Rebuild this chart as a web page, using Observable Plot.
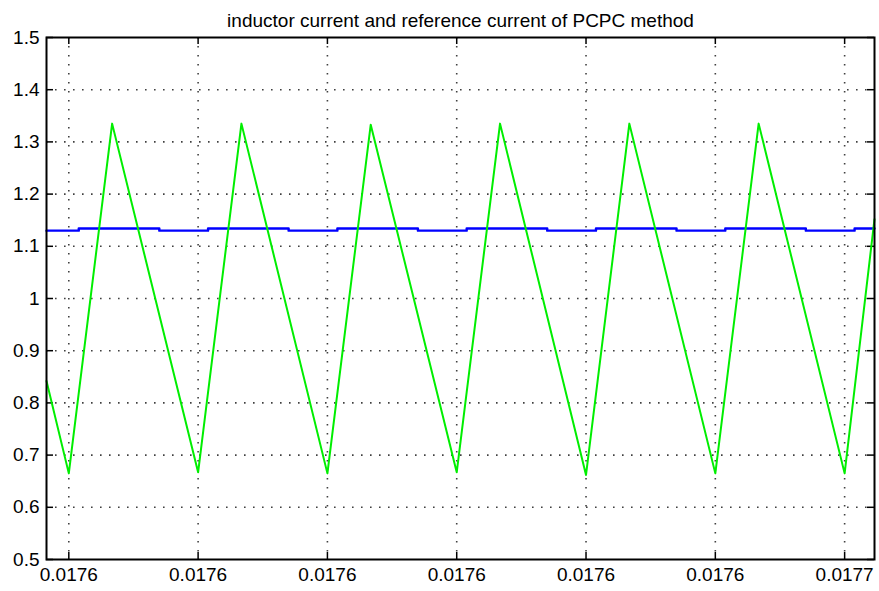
<!DOCTYPE html>
<html>
<head>
<meta charset="utf-8">
<script src="https://cdn.jsdelivr.net/npm/d3@7"></script>
<script src="https://cdn.jsdelivr.net/npm/@observablehq/plot@0.6"></script>
<style>
  html, body { margin: 0; padding: 0; background: #fff; }
  #chart svg { display: block; }
</style>
</head>
<body>
<div id="chart"></div>
<script>
const title = "inductor current and reference current of PCPC method";

// x axis: tick positions (s) and their printed labels
const xTicks = [0.01756, 0.01758, 0.01760, 0.01762, 0.01764, 0.01766, 0.01768];
const xLabels = ["0.0176", "0.0176", "0.0176", "0.0176", "0.0176", "0.0176", "0.0177"];
const xDomain = [0.01755655, 0.01768462];

// y axis
const yTicks = [0.5, 0.6, 0.7, 0.8, 0.9, 1.0, 1.1, 1.2, 1.3, 1.4, 1.5];
const yLabels = ["0.5", "0.6", "0.7", "0.8", "0.9", "1", "1.1", "1.2", "1.3", "1.4", "1.5"];
const yDomain = [0.5, 1.5];

// inductor current (green) – vertices of the triangular ripple
const inductorT = [0.01755655, 0.01756, 0.0175667, 0.01758, 0.0175867, 0.01760, 0.0176067,
                   0.01762, 0.0176267, 0.01764, 0.0176467, 0.01766, 0.0176667, 0.01768, 0.01768462];
const inductorI = [0.842, 0.665, 1.335, 0.667, 1.335, 0.665, 1.333,
                   0.667, 1.335, 0.662, 1.335, 0.665, 1.335, 0.665, 1.152];

// reference current (blue) – step changes
const refT = [0.01755655, 0.01756154, 0.017574, 0.01758154, 0.017594, 0.01760154, 0.017614,
              0.01762154, 0.017634, 0.01764154, 0.017654, 0.01766154, 0.017674, 0.01768154, 0.01768462];
const refI = [1.130, 1.134, 1.130, 1.134, 1.130, 1.134, 1.130,
              1.134, 1.130, 1.134, 1.130, 1.134, 1.130, 1.134, 1.134];

const inductor = inductorT.map((t, i) => ({t, v: inductorI[i]}));
const reference = refT.map((t, i) => ({t, v: refI[i]}));
const xLabelMap = new Map(xTicks.map((t, i) => [t, xLabels[i]]));
const yLabelMap = new Map(yTicks.map((t, i) => [t, yLabels[i]]));

const W = 879, H = 591;
const mL = 46, mR = 5, mT = 37, mB = 32;
const fw = W - mL - mR, fh = H - mT - mB;
const tick = 7;
const font = "'Liberation Sans', Arial, sans-serif";

const chart = Plot.plot({
  width: W,
  height: H,
  marginLeft: mL,
  marginRight: mR,
  marginTop: mT,
  marginBottom: mB,
  style: {fontFamily: font, fontSize: "19px", color: "#000", background: "#fff"},
  x: {domain: xDomain, type: "linear"},
  y: {domain: yDomain, type: "linear"},
  marks: [
    // dotted grid
    Plot.ruleX(xTicks, {stroke: "#000", strokeWidth: 1.6, strokeOpacity: 0.75, strokeDasharray: "1.6,7.4"}),
    Plot.ruleY(yTicks.slice(1, -1), {stroke: "#000", strokeWidth: 1.6, strokeOpacity: 0.75, strokeDasharray: "1.6,7.4"}),
    // inward ticks on all four sides
    Plot.ruleX(xTicks, {insetTop: fh - tick, stroke: "#000", strokeWidth: 1.5}),
    Plot.ruleX(xTicks, {insetBottom: fh - tick, stroke: "#000", strokeWidth: 1.5}),
    Plot.ruleY(yTicks, {insetRight: fw - tick, stroke: "#000", strokeWidth: 1.5}),
    Plot.ruleY(yTicks, {insetLeft: fw - tick, stroke: "#000", strokeWidth: 1.5}),
    // axis labels
    Plot.axisX({ticks: xTicks, tickSize: 0, tickPadding: 8, tickFormat: d => xLabelMap.get(d), label: null, fontSize: 19}),
    Plot.axisY({ticks: yTicks, tickSize: 0, tickPadding: 7, tickFormat: d => yLabelMap.get(d), label: null, fontSize: 19}),
    // data
    Plot.line(reference, {x: "t", y: "v", stroke: "#0000ff", strokeWidth: 2.4, curve: "step-after"}),
    Plot.line(inductor, {x: "t", y: "v", stroke: "#00ee00", strokeWidth: 2}),
    // frame
    Plot.frame({stroke: "#000", strokeWidth: 2}),
    // title
    Plot.text([title], {frameAnchor: "top", dy: -11, lineAnchor: "bottom", fontSize: 19, fill: "#000"})
  ]
});

document.getElementById("chart").appendChild(chart);
</script>
</body>
</html>
